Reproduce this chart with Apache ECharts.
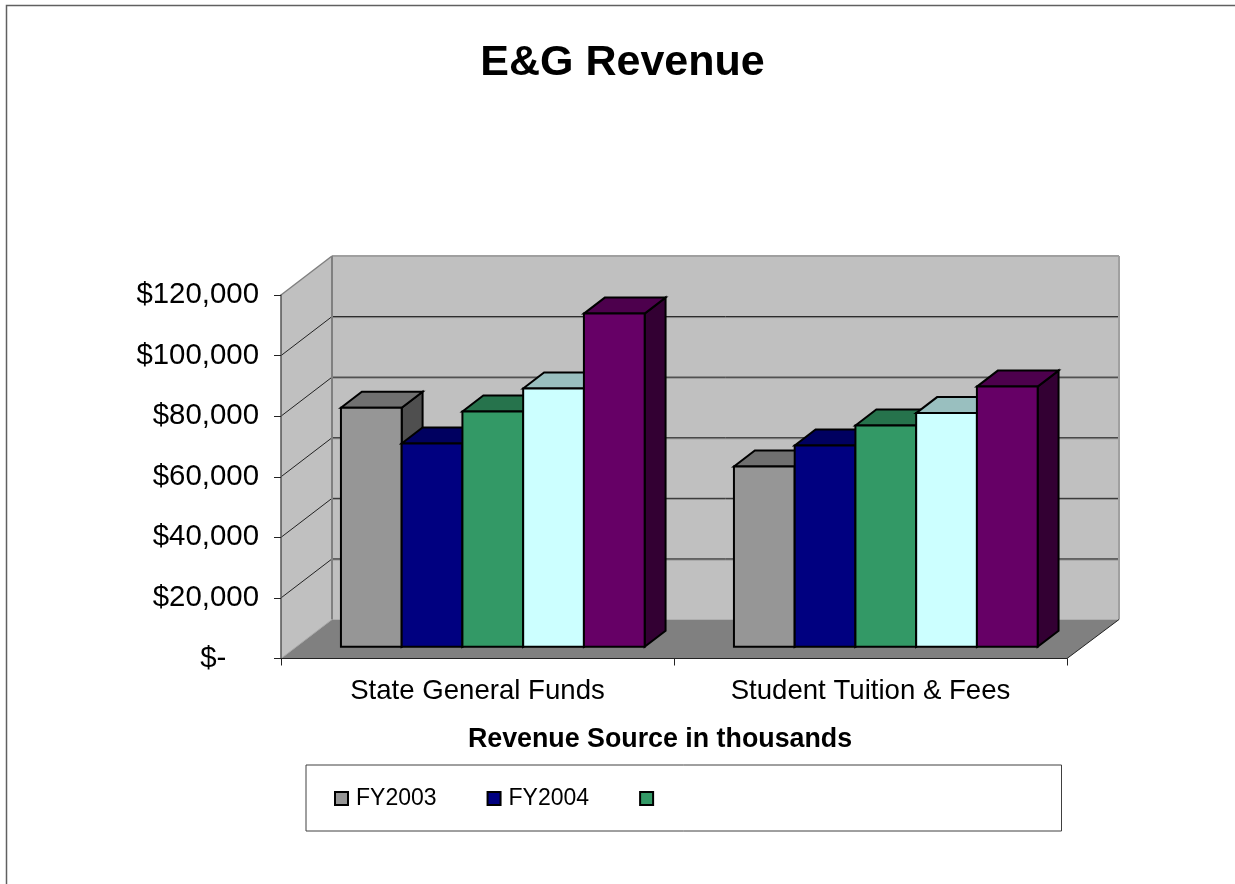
<!DOCTYPE html>
<html><head><meta charset="utf-8">
<style>html,body{margin:0;padding:0;background:#fff}#c{width:1235px;height:884px}</style>
<script src="https://cdn.jsdelivr.net/npm/echarts@6/dist/echarts.min.js"></script>
</head><body><div id="c"></div>
<script>
const categories = ['State General Funds', 'Student Tuition & Fees'];
const seriesNames = ['FY2003', 'FY2004', ' ', 'FY2005', 'FY2006'];
const fy2003 = [78900, 59500];
const fy2004 = [67100, 66450];
const fy2005 = [77700, 73050];
const fy2006 = [85270, 77150];
const fy2007 = [110000, 85900];
const yTicks = [0, 20000, 40000, 60000, 80000, 100000, 120000];
const yLabels = ['$-    ', '$20,000', '$40,000', '$60,000', '$80,000', '$100,000', '$120,000'];
const legendNames = ['FY2003', 'FY2004', ' '];
const seriesValues = [fy2003, fy2004, fy2005, fy2006, fy2007];
const faceColors = ['#969696', '#000080', '#339966', '#CCFFFF', '#660066'];
const topColors = ['#707070', '#000060', '#26734C', '#99BFBF', '#4D004D'];
const sideColors = ['#4F4F4F', '#000040', '#1A4D33', '#668080', '#330033'];

const FONT = '"Liberation Sans", Arial, sans-serif';
const DX = 51, DY = 39, F1 = 0.30, F2 = 0.71, BARS = 5, BAND_UNITS = 6.47;

function poly(points, fill, stroke, lw, z2) {
  return { type: 'polygon', z2, shape: { points }, style: { fill, stroke, lineWidth: lw, lineJoin: 'miter' } };
}
function seg(x1, y1, x2, y2, stroke, lw, z2) {
  return { type: 'line', z2, shape: { x1, y1, x2, y2 }, style: { stroke, lineWidth: lw } };
}

function renderWalls(params, api) {
  const g = params.coordSys;
  const L = g.x, R = g.x + g.width, T = g.y, B = g.y + g.height;
  const c = [];
  c.push(poly([[L, T], [L + DX, T - DY], [L + DX, B - DY], [L, B]], '#C0C0C0', 'none', 0, 1));
  c.push(poly([[L + DX, T - DY], [R + DX + 1, T - DY], [R + DX + 1, B - DY], [L + DX, B - DY]], '#C0C0C0', 'none', 0, 1));
  c.push(poly([[L, B], [L + DX, B - DY], [R + DX + 1, B - DY], [R, B]], '#808080', 'none', 0, 1));
  yTicks.forEach(v => {
    if (v === yTicks[0] || v === yTicks[yTicks.length - 1]) return;
    const y = api.coord([0, v])[1];
    c.push(seg(L, y, L + DX, y - DY, '#222', 1, 2));
    c.push(seg(L + DX, y - DY + 1, R + DX + 1, y - DY + 1, '#8A8A8A', 1, 2));
    c.push(seg(L + DX, y - DY, R + DX + 1, y - DY, '#222', 1, 3));
  });
  c.push(seg(L, T, L + DX, T - DY, '#808080', 1.5, 4));
  c.push(seg(L + DX, T - DY, R + DX + 1, T - DY, '#A0A0A0', 2, 4));
  c.push(seg(L + DX, T - DY, L + DX, B - DY, '#808080', 2, 4));
  c.push(seg(R + DX + 1, T - DY, R + DX + 1, B - DY, '#A0A0A0', 2, 4));
  c.push(seg(L, B, L + DX, B - DY, '#A8A8A8', 1, 4));
  c.push(seg(R, B, R + DX + 1, B - DY, '#222', 1, 4));
  return { type: 'group', children: c };
}

function makeBarRenderer(idx) {
  return function (params, api) {
    const p = api.coord([api.value(0), api.value(1)]);
    const base = api.coord([api.value(0), 0]);
    const band = api.size([1, 0])[0];
    const w = band / BAND_UNITS;
    const x0 = p[0] - w * BARS / 2 + idx * w + DX * F1;
    const x1 = x0 + w;
    const yb = base[1] - DY * F1;
    const yt = p[1] - DY * F1;
    const ox = DX * (F2 - F1), oy = DY * (F2 - F1);
    const z = 10 + idx;
    return { type: 'group', children: [
      poly([[x1, yt], [x1 + ox, yt - oy], [x1 + ox, yb - oy], [x1, yb]], sideColors[idx], '#000', 2, z),
      poly([[x0, yt], [x0 + ox, yt - oy], [x1 + ox, yt - oy], [x1, yt]], topColors[idx], '#000', 2, z),
      poly([[x0, yt], [x1, yt], [x1, yb], [x0, yb]], faceColors[idx], '#000', 2, z)
    ] };
  };
}

const chart = echarts.init(document.getElementById('c'), null, { renderer: 'canvas' });
chart.setOption({
  animation: false,
  backgroundColor: '#fff',
  textStyle: { fontFamily: FONT },
  title: { text: 'E&G Revenue', left: 617.5, top: 37, textAlign: 'center',
    textStyle: { fontFamily: FONT, fontSize: 43, fontWeight: 'bold', color: '#000' } },
  grid: { left: 281, top: 295, width: 786, height: 363.5 },
  legend: {
    data: legendNames, left: 306, top: 765, orient: 'horizontal',
    padding: [22, 394, 21, 28], itemGap: 50, itemWidth: 13, itemHeight: 13,
    borderColor: '#404040', borderWidth: 1, backgroundColor: '#fff',
    selectedMode: false, icon: 'rect',
    textStyle: { fontFamily: FONT, fontSize: 23, color: '#000', padding: [0, 0, 0, 3] }
  },
  xAxis: {
    type: 'category', data: categories, z: 5,
    name: 'Revenue Source in thousands', nameLocation: 'middle', nameGap: 68,
    nameTextStyle: { fontFamily: FONT, fontSize: 26.8, fontWeight: 'bold', color: '#000', padding: [0, 28, 0, 0] },
    axisLine: { lineStyle: { color: '#222', width: 1 } },
    axisTick: { show: true, length: 7, alignWithLabel: false, lineStyle: { color: '#222', width: 1 } },
    axisLabel: { fontFamily: FONT, fontSize: 27.6, color: '#000', margin: 19 },
    splitLine: { show: false }
  },
  yAxis: {
    type: 'value', min: 0, max: 120000, interval: 20000, z: 5,
    axisLine: { show: true, lineStyle: { color: '#555', width: 1.5 } },
    axisTick: { show: true, length: 7, lineStyle: { color: '#222', width: 1 } },
    axisLabel: { fontFamily: FONT, fontSize: 29.4, color: '#000', margin: 22,
      formatter: v => yLabels[yTicks.indexOf(v)] },
    splitLine: { show: false }
  },
  graphic: [{ type: 'rect', silent: true, z: -10,
    shape: { x: 6.5, y: 5.5, width: 1400, height: 1000 },
    style: { fill: 'none', stroke: '#606060', lineWidth: 1.5 } }],
  series: [
    { type: 'custom', name: 'walls', silent: true, z: 1, clip: false, data: [[0, 0]],
      coordinateSystem: 'cartesian2d', renderItem: renderWalls, encode: { x: 0, y: 1 } }
  ].concat(seriesValues.map((vals, i) => ({
    type: 'custom', name: seriesNames[i], z: 2, clip: false, coordinateSystem: 'cartesian2d',
    itemStyle: { color: faceColors[i], borderColor: '#000', borderWidth: 1.5 },
    data: vals.map((v, k) => [k, v]),
    encode: { x: 0, y: 1 },
    renderItem: makeBarRenderer(i)
  })))
});
</script></body></html>
